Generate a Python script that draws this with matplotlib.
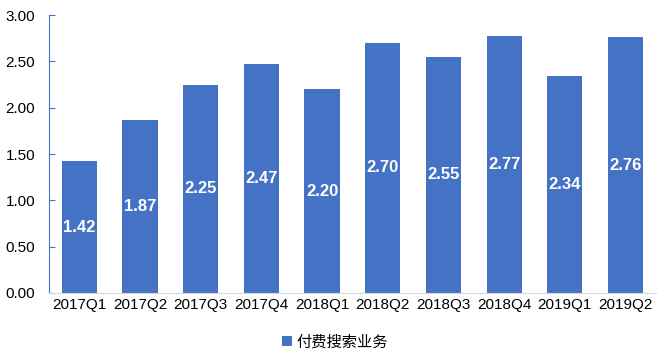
import matplotlib
matplotlib.use("Agg")
from matplotlib import pyplot as plt
from matplotlib.patches import Patch

plt.rcParams["font.family"] = ["Liberation Sans", "Noto Sans CJK SC", "DejaVu Sans"]

quarters = ["2017Q1", "2017Q2", "2017Q3", "2017Q4", "2018Q1",
            "2018Q2", "2018Q3", "2018Q4", "2019Q1", "2019Q2"]
values = [1.42, 1.87, 2.25, 2.47, 2.20, 2.70, 2.55, 2.77, 2.34, 2.76]
series_name = "付费搜索业务"

bar_color = "#4472C4"

fig = plt.figure(figsize=(6.7, 3.59), dpi=100)
ax = fig.add_axes([0.073, 0.184, 0.906, 0.774])

x = range(len(quarters))
bars = ax.bar(x, values, width=0.58, color=bar_color, zorder=2)

# value labels in the middle of each bar
for xi, v in zip(x, values):
    ax.text(xi, v / 2, f"{v:.2f}", ha="center", va="center",
            color="white", fontsize=12, fontweight="bold")

ax.set_xlim(-0.5, len(quarters) - 0.5)
ax.set_ylim(0, 3.0)
ax.set_yticks([0, 0.5, 1.0, 1.5, 2.0, 2.5, 3.0])
ax.set_yticklabels([f"{t:.2f}" for t in ax.get_yticks()])
ax.set_xticks(list(x))
ax.set_xticklabels(quarters)

for s in ["top", "right"]:
    ax.spines[s].set_visible(False)
ax.spines["left"].set_color(bar_color)
ax.spines["bottom"].set_color("#D9D9D9")
ax.tick_params(axis="y", direction="in", length=4, color=bar_color,
               labelsize=11, pad=10)
ax.tick_params(axis="x", length=0, labelsize=11, pad=4)

handle = Patch(facecolor=bar_color, label=series_name)
fig.legend(handles=[handle], loc="lower center", bbox_to_anchor=(0.5, -0.014),
           frameon=False, handlelength=0.6, handleheight=0.6,
           handletextpad=0.3, prop={"family": ["Noto Sans CJK SC", "DejaVu Sans"], "size": 11})

fig.savefig("out.png", dpi=100)
